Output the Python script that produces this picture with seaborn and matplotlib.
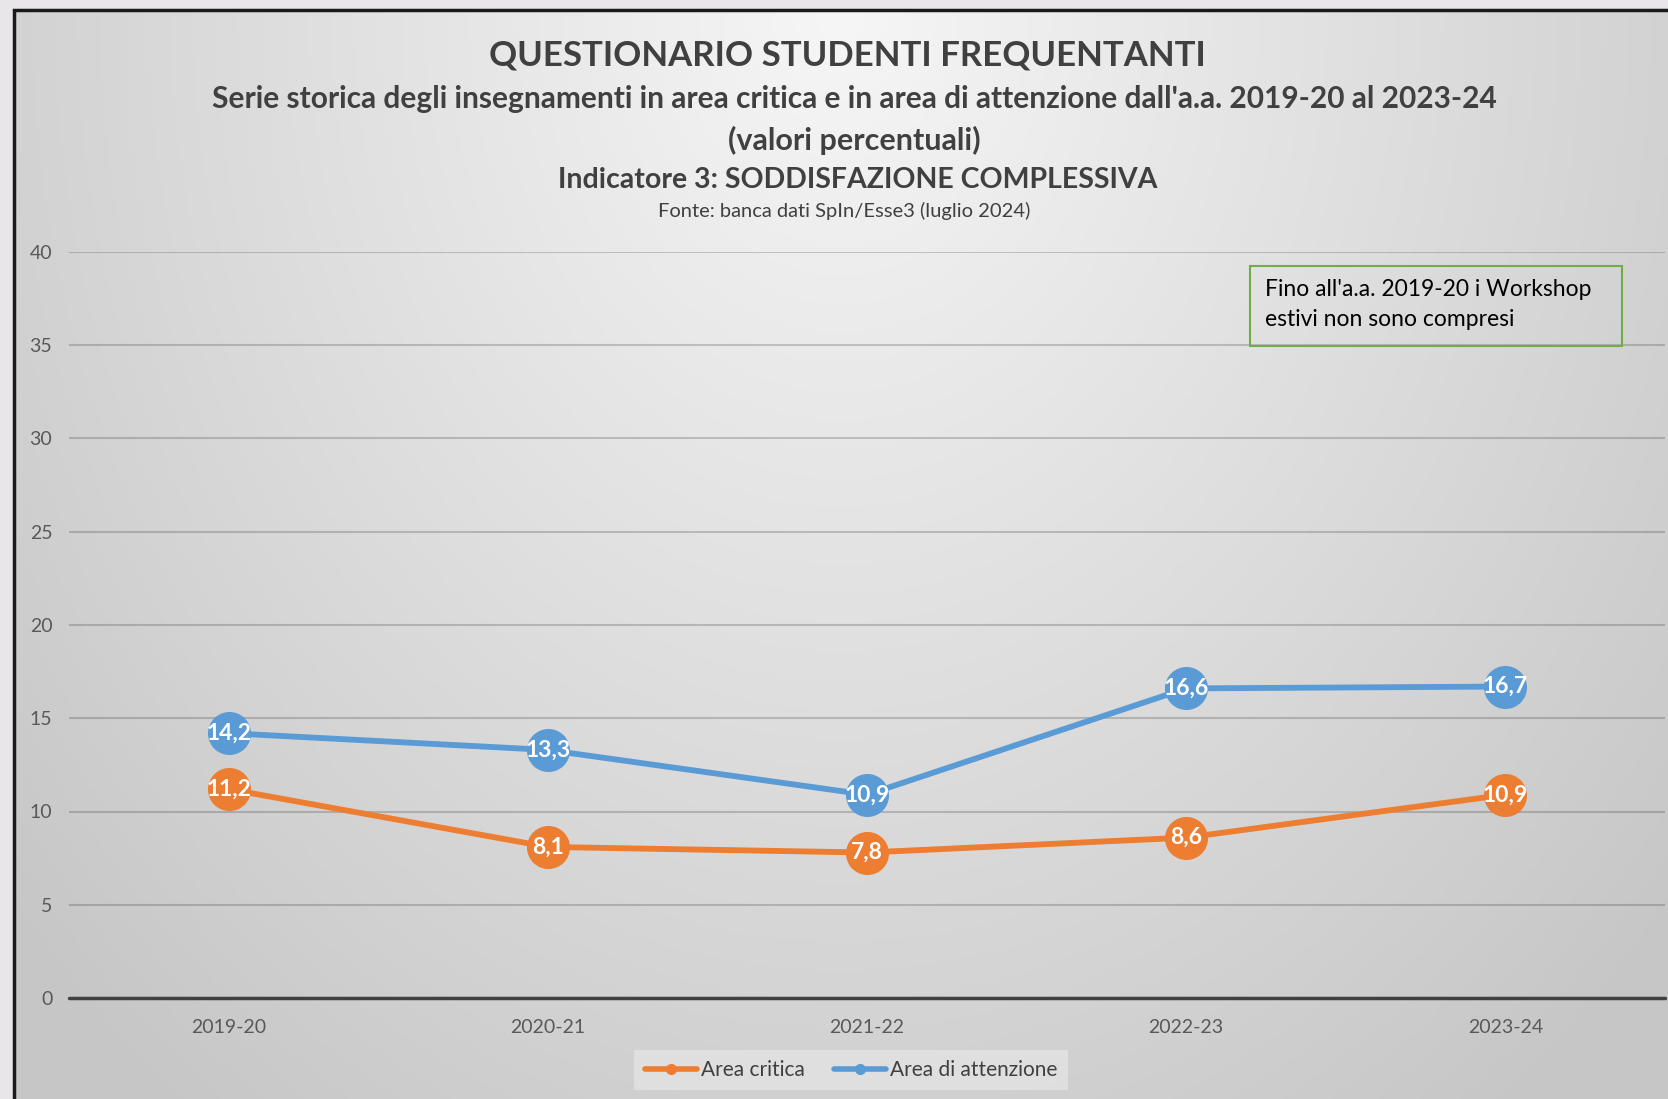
import numpy as np
import pandas as pd
import seaborn as sns
import matplotlib.pyplot as plt
from matplotlib.patches import Rectangle
from matplotlib.lines import Line2D

# Dati
anni = ['2019-20', '2020-21', '2021-22', '2022-23', '2023-24']
area_critica = [11.2, 8.1, 7.8, 8.6, 10.9]
area_attenzione = [14.2, 13.3, 10.9, 16.6, 16.7]
serie = ['Area critica', 'Area di attenzione']
colori = ['#ED7D31', '#5B9BD5']
y_ticks = [0, 5, 10, 15, 20, 25, 30, 35, 40]

df = pd.DataFrame({
    'anno': anni * 2,
    'valore': area_critica + area_attenzione,
    'serie': [serie[0]] * len(anni) + [serie[1]] * len(anni),
})

sns.set_style("white")
plt.rcParams['font.family'] = ['Lato', 'DejaVu Sans']

W, H = 1668, 1099
fig = plt.figure(figsize=(W / 100, H / 100), dpi=100)
fig.patch.set_facecolor('#e8e6e8')

# Sfondo con gradiente radiale (stile Excel)
bg = fig.add_axes([14 / W, 0, 1 - 14 / W, (H - 10) / H], zorder=-2)
gx, gy = np.meshgrid(np.linspace(0, 1, 400), np.linspace(0, 1, 300))
d = np.sqrt(((gx - 0.5) / 0.55) ** 2 + (gy / 1.05) ** 2)
g = 0.965 - 0.185 * np.clip(d, 0, 1.2) / 1.2
bg.imshow(np.dstack([g, g, g]), aspect='auto', extent=[0, 1, 1, 0])
bg.set_xlim(0, 1)
bg.set_ylim(1, 0)
bg.axis('off')
bg.add_patch(Rectangle((0, -0.5), 1.5, 1.5, fill=False, edgecolor='#1a1a1a', linewidth=2.5,
                       transform=bg.transAxes, clip_on=False))

ax = fig.add_axes([69 / W, 101 / H, (1665 - 69) / W, (998 - 252) / H])
ax.set_facecolor('none')

sns.lineplot(data=df, x='anno', y='valore', hue='serie', palette=colori, ax=ax,
             linewidth=4.2, marker='o', markersize=31, markeredgewidth=0, legend=False, zorder=3)

for vals, col in zip([area_critica, area_attenzione], colori):
    for i, v in enumerate(vals):
        ax.text(i, v, f'{v:.1f}'.replace('.', ','), color='white', fontsize=16.5, fontweight='bold',
                ha='center', va='center', zorder=5)

ax.set_xlim(-0.5, 4.5)
ax.set_ylim(0, 40)
ax.set_yticks(y_ticks)
ax.grid(axis='y', color='black', alpha=0.18, linewidth=1.5)
ax.axhline(0, color='#404040', linewidth=2.5, zorder=2, clip_on=False)
for s in ax.spines.values():
    s.set_visible(False)
ax.tick_params(axis='both', length=0, labelsize=14, labelcolor='#595959')
ax.tick_params(axis='y', pad=12)
ax.tick_params(axis='x', pad=15)
ax.set_xlabel('')
ax.set_ylabel('')

# Titoli
col_t = '#404040'
fig.text(0.508, 1 - 55 / H, 'QUESTIONARIO STUDENTI FREQUENTANTI', ha='center', va='center',
         fontsize=25, fontweight='bold', color=col_t)
fig.text(0.512, 1 - 99 / H, "Serie storica degli insegnamenti in area critica e in area di attenzione dall'a.a. 2019-20 al 2023-24",
         ha='center', va='center', fontsize=21.5, fontweight='bold', color=col_t)
fig.text(0.512, 1 - 140 / H, '(valori percentuali)', ha='center', va='center',
         fontsize=22, fontweight='bold', color=col_t)
fig.text(0.514, 1 - 180 / H, 'Indicatore 3: SODDISFAZIONE COMPLESSIVA', ha='center', va='center',
         fontsize=20.5, fontweight='bold', color=col_t)
fig.text(0.506, 1 - 211 / H, 'Fonte: banca dati SpIn/Esse3 (luglio 2024)', ha='center', va='center',
         fontsize=14.5, color=col_t)

# Nota
fig.patches.append(Rectangle((1250 / W, 1 - 346 / H), 372 / W, 80 / H, transform=fig.transFigure,
                             facecolor='none', edgecolor='#70AD47', linewidth=1.5))
fig.text(1265 / W, 1 - 290 / H, "Fino all'a.a. 2019-20 i Workshop", ha='left', va='center',
         fontsize=16.5, color='black')
fig.text(1265 / W, 1 - 319 / H, 'estivi non sono compresi', ha='left', va='center',
         fontsize=16.5, color='black')

# Legenda
handles = [Line2D([0], [0], color=c, linewidth=4, marker='o', markersize=7) for c in colori]
leg = fig.legend(handles, serie, loc='center', bbox_to_anchor=(851 / W, 1 - 1070 / H), ncol=2,
                 frameon=True, fancybox=False, fontsize=15, handlelength=2.5, handletextpad=0.2,
                 columnspacing=1.4, borderpad=0.5, borderaxespad=0, labelcolor='#404040')
leg.get_frame().set_facecolor('#e3e3e3')
leg.get_frame().set_edgecolor('none')

plt.savefig('out.png', dpi=100, facecolor=fig.get_facecolor())
